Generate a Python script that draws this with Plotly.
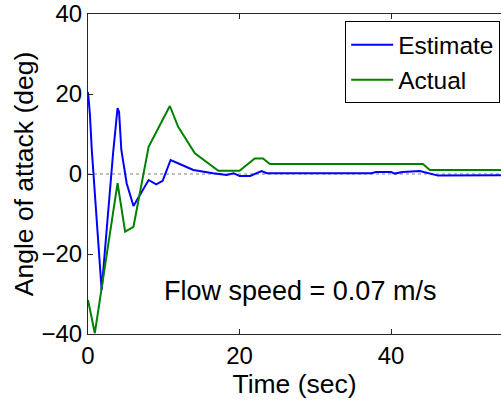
import plotly.graph_objects as go

# Estimated angle of attack (deg) vs time (sec)
est_time = [0, 0.25, 0.5, 1.8, 3.3, 3.9, 4.1, 4.4, 5.1, 6.0, 8.0, 9.0, 9.85, 10.9,
            12.1, 13.9, 16.5, 18.3, 19.2, 20.0, 21.4, 22.9, 23.6, 37.4, 38.0,
            40.0, 40.5, 41.5, 43.8, 45.1, 46.2, 54.5]
est_angle = [20.5, 15, 6, -29, 5, 16.5, 15.5, 6, -2.3, -8, -1.5, -2.6, -1.7, 3.5,
             2.5, 1.0, 0.2, -0.25, 0.2, -0.5, -0.5, 0.75, 0.2, 0.2, 0.5,
             0.5, 0.1, 0.5, 0.75, 0.2, -0.4, -0.3]

# Actual angle of attack (deg) vs time (sec)
act_time = [0, 0.9, 3.9, 4.9, 6.0, 8.0, 10.8, 11.9, 14.1, 17.2, 20.0, 22.0, 23.1,
            24.0, 44.2, 45.1, 54.5]
act_angle = [-31.5, -39.8, -2.3, -14.4, -13.2, 6.8, 17.0, 11.8, 5.2, 0.8, 0.8, 3.9,
             3.9, 2.5, 2.5, 1.0, 1.0]

x_ticks = [0, 20, 40]
y_ticks = [-40, -20, 0, 20, 40]
x_range = [0, 54.5]
y_range = [-40, 40]

FONT = "Liberation Sans, Arial, sans-serif"
AXIS_COLOR = "#262626"

fig = go.Figure()
fig.add_trace(go.Scatter(x=est_time, y=est_angle, mode="lines", name="Estimate",
                         line=dict(color="#0000ff", width=2)))
fig.add_trace(go.Scatter(x=act_time, y=act_angle, mode="lines", name="Actual",
                         line=dict(color="#008000", width=2)))

# dotted reference line at zero
fig.add_shape(type="line", xref="x", yref="y", x0=x_range[0], x1=x_range[1], y0=0, y1=0,
              line=dict(color="#808080", width=1, dash="dot"), layer="below")

fig.add_annotation(text="Flow speed = 0.07 m/s", xref="paper", yref="paper",
                   x=0.513, y=0.082, showarrow=False,
                   font=dict(family=FONT, size=27, color="black"))

fig.update_layout(
    width=501, height=403,
    margin=dict(l=88, r=0, t=14, b=69),
    paper_bgcolor="white", plot_bgcolor="white",
    font=dict(family=FONT, color="black"),
    showlegend=True,
    legend=dict(x=0.998, xanchor="right", y=0.977, yanchor="top",
                bordercolor="black", borderwidth=1, bgcolor="white",
                itemwidth=42,
                font=dict(family=FONT, size=24.5, color="black")),
    xaxis=dict(range=x_range, tickvals=x_ticks, ticks="inside", ticklen=5,
               tickcolor=AXIS_COLOR, showline=True, linecolor=AXIS_COLOR, linewidth=1,
               mirror="ticks", showgrid=False, zeroline=False,
               tickfont=dict(family=FONT, size=24, color="black"),
               title=dict(text="Time (sec)", standoff=0,
                          font=dict(family=FONT, size=26.5, color="black"))),
    yaxis=dict(range=y_range, tickvals=y_ticks, ticks="inside", ticklen=5,
               tickcolor=AXIS_COLOR, showline=True, linecolor=AXIS_COLOR, linewidth=1,
               showgrid=False, zeroline=False,
               tickfont=dict(family=FONT, size=24, color="black"),
               title=dict(text="Angle of attack (deg)", standoff=0,
                          font=dict(family=FONT, size=26.5, color="black"))),
)

fig.write_html("out.html")
